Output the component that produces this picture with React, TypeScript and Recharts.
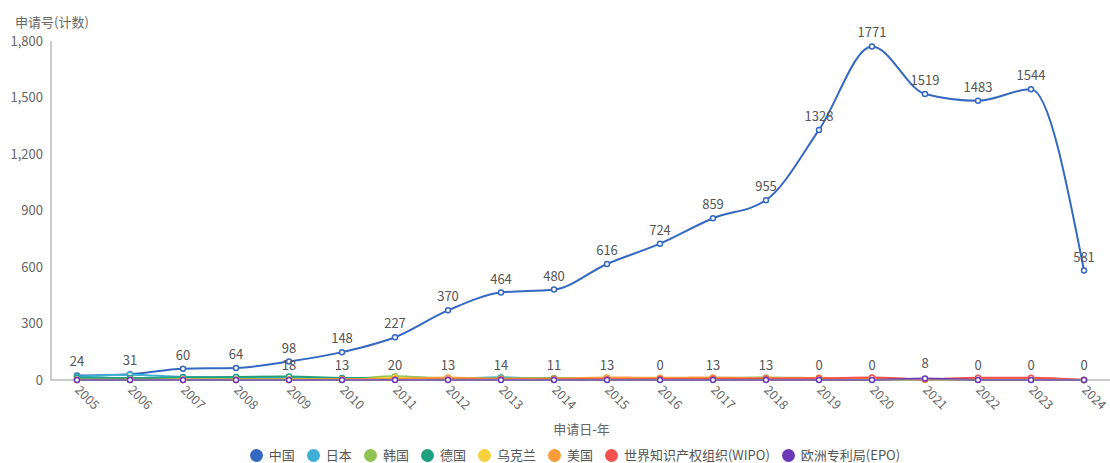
import React from 'react';
import { LineChart, Line, XAxis, YAxis, LabelList } from 'recharts';

const years = ['2005', '2006', '2007', '2008', '2009', '2010', '2011', '2012', '2013', '2014', '2015', '2016', '2017', '2018', '2019', '2020', '2021', '2022', '2023', '2024'];

const china = [24, 31, 60, 64, 98, 148, 227, 370, 464, 480, 616, 724, 859, 955, 1328, 1771, 1519, 1483, 1544, 581];
const japan = [18, 28, 16, 14, 10, 9, 10, 8, 14, 7, 8, 5, 7, 6, 4, 3, 2, 2, 1, 0];
const korea = [2, 3, 4, 5, 6, 5, 20, 8, 9, 11, 10, 9, 11, 13, 10, 8, 4, 3, 2, 0];
const germany = [12, 10, 14, 16, 18, 11, 10, 9, 7, 6, 5, 4, 6, 5, 4, 3, 2, 2, 1, 0];
const ukraine = [0, 0, 0, 0, 1, 2, 12, 2, 1, 1, 2, 3, 2, 2, 12, 3, 1, 1, 1, 0];
const usa = [1, 1, 2, 2, 3, 4, 5, 13, 6, 7, 13, 12, 13, 9, 10, 11, 3, 8, 8, 0];
const wipo = [0, 0, 0, 0, 0, 1, 1, 2, 2, 3, 4, 5, 6, 8, 9, 13, 4, 12, 12, 0];
const epo = [0, 0, 0, 0, 0, 0, 0, 0, 0, 0, 0, 0, 0, 0, 0, 0, 8, 0, 0, 0];

// labels that survive overlap on the low series
const otherLabels = [null, null, null, null, 18, 13, 20, 13, 14, 11, 13, 0, 13, 13, 0, 0, 8, 0, 0, 0];

const yTicks = [0, 300, 600, 900, 1200, 1500, 1800];

const series = [
  { key: 'cn', name: '中国', color: '#3568c0', values: china },
  { key: 'jp', name: '日本', color: '#3eaed4', values: japan },
  { key: 'kr', name: '韩国', color: '#8fc453', values: korea },
  { key: 'de', name: '德国', color: '#1fa17f', values: germany },
  { key: 'ua', name: '乌克兰', color: '#f7d13d', values: ukraine },
  { key: 'us', name: '美国', color: '#f89c3c', values: usa },
  { key: 'wipo', name: '世界知识产权组织(WIPO)', color: '#f3524f', values: wipo },
  { key: 'epo', name: '欧洲专利局(EPO)', color: '#6b3ab8', values: epo },
];

const data = years.map((year, i) => {
  const row: any = { year, other: otherLabels[i] };
  series.forEach((s) => { row[s.key] = s.values[i]; });
  return row;
});

const font = '"Noto Sans CJK SC", "Noto Sans", sans-serif';

const YearTick = (props: any) => {
  const { x, y, payload } = props;
  return (
    <text x={x} y={y} dy={4} transform={`rotate(45, ${x}, ${y})`} textAnchor="start" fill="#666" fontSize={12.5} fontFamily={font}>
      {payload.value}
    </text>
  );
};

const App = () => {
  return (
    <div style={{ position: 'absolute', left: 0, top: 0, width: 1110, height: 463, background: '#fff', fontFamily: font, overflow: 'hidden' }}>
      <div style={{ position: 'absolute', left: 15, top: 12, fontSize: 13, color: '#666' }}>申请号(计数)</div>
      <LineChart width={1110} height={463} data={data} margin={{ top: 41, right: 0, left: 0, bottom: 23 }} style={{ overflow: 'visible' }}>
        <XAxis
          dataKey="year"
          padding={{ left: 26, right: 26 }}
          tickLine={false}
          axisLine={{ stroke: '#999' }}
          tick={<YearTick />}
          interval={0}
          height={60}
        />
        <YAxis
          width={51}
          domain={[0, 1800]}
          ticks={yTicks}
          tickLine={false}
          axisLine={{ stroke: '#999' }}
          tickFormatter={(v: number) => v.toLocaleString('en-US')}
          tick={{ fill: '#666', fontSize: 13, fontFamily: font }}
        />
        {series.map((s) => (
          <Line
            key={s.key}
            type="monotone"
            dataKey={s.key}
            stroke={s.color}
            strokeWidth={2}
            dot={{ r: 2.5, fill: '#fff', stroke: s.color, strokeWidth: 1.5 }}
            isAnimationActive={false}
          >
            {s.key === 'cn' && (
              <LabelList dataKey="cn" position="top" offset={9} fill="#555" fontSize={13} fontFamily={font} />
            )}
            {s.key === 'epo' && (
              <LabelList dataKey="other" position="top" offset={10} fill="#555" fontSize={13} fontFamily={font} />
            )}
          </Line>
        ))}
      </LineChart>
      <div style={{ position: 'absolute', left: 0, width: 1163, top: 419, textAlign: 'center', fontSize: 13, color: '#666' }}>申请日-年</div>
      <div style={{ position: 'absolute', left: 0, width: 1110, paddingLeft: 40, boxSizing: 'border-box', top: 448, display: 'flex', justifyContent: 'center', gap: 12, fontSize: 13, lineHeight: '14px', color: '#555' }}>
        {series.map((s) => (
          <div key={s.key} style={{ display: 'flex', alignItems: 'center', gap: 6 }}>
            <div style={{ width: 13, height: 13, borderRadius: '50%', background: s.color }} />
            <span>{s.name}</span>
          </div>
        ))}
      </div>
    </div>
  );
};

export default App;
